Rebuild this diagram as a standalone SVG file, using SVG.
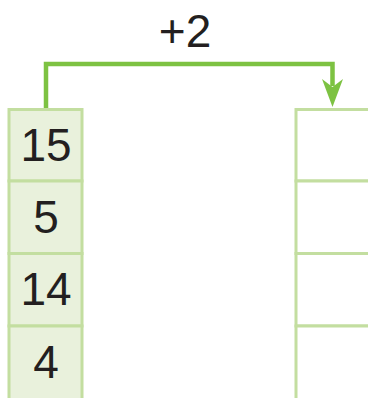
<svg xmlns="http://www.w3.org/2000/svg" width="368" height="398" viewBox="0 0 368 398">
<style>
.src{fill:#e9f1dc;stroke:#c3dea0;stroke-width:3}
.dst{fill:#ffffff;stroke:#c3dea0;stroke-width:3}
.t{font-family:"Liberation Sans",Arial,sans-serif;font-size:46px;fill:#231f20;text-anchor:middle}
.conn{fill:none;stroke:#7dc242;stroke-width:4.5}
.head{fill:#7dc242}
</style>
<g id="connectors">
<path class="conn" d="M46,110 V64 H332.5 V86"/>
<path class="head" d="M322,79 L332.5,87 L343,79 L332.5,107 Z"/>
</g>
<g id="src-15"><rect class="src" x="9" y="109.5" width="73" height="71.5"/><text class="t" x="46" y="161">15</text></g>
<g id="src-5"><rect class="src" x="9" y="181" width="73" height="72.5"/><text class="t" x="46" y="233">5</text></g>
<g id="src-14"><rect class="src" x="9" y="253.5" width="73" height="72.5"/><text class="t" x="46" y="305">14</text></g>
<g id="src-4"><rect class="src" x="9" y="326" width="73" height="80"/><text class="t" x="46" y="378">4</text></g>
<g id="dst-0"><rect class="dst" x="296" y="109.5" width="80" height="71.5"/></g>
<g id="dst-1"><rect class="dst" x="296" y="181" width="80" height="72.5"/></g>
<g id="dst-2"><rect class="dst" x="296" y="253.5" width="80" height="72.5"/></g>
<g id="dst-3"><rect class="dst" x="296" y="326" width="80" height="80"/></g>
<g id="label"><text class="t" x="185" y="47">+2</text></g>
</svg>
